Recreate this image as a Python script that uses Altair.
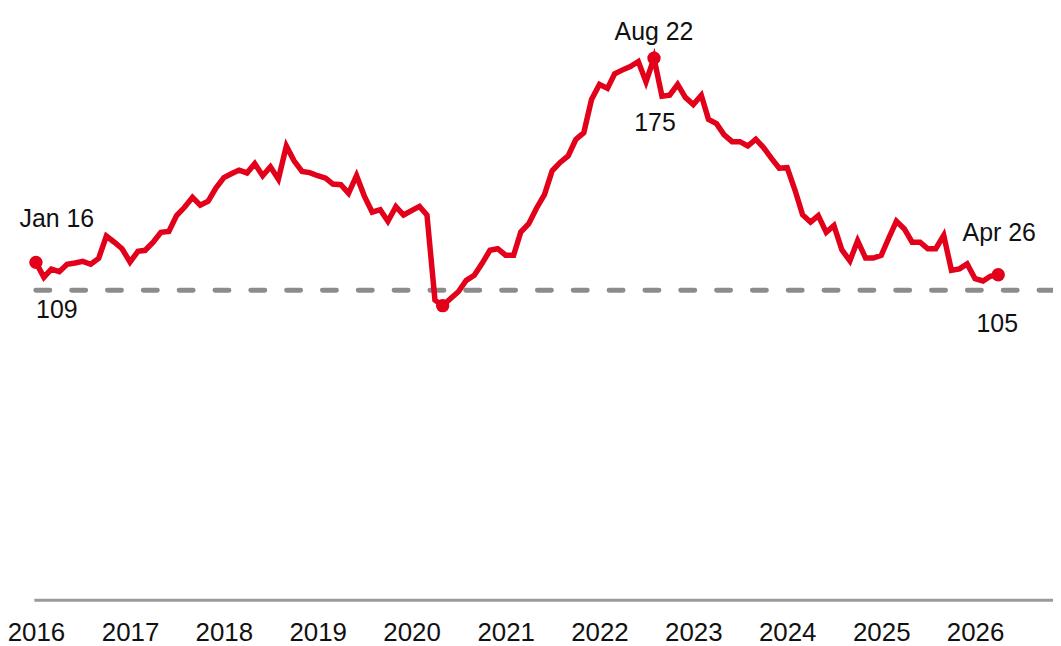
import altair as alt
import pandas as pd

# Monthly index values, Jan 2016 .. Apr 2026
start_month = "2016-01-01"
values = [
    109, 104.2, 106.8, 106, 108.4, 108.8, 109.3, 108.4, 110.3, 117.5, 115.5, 113.4,
    109.1, 112.6, 112.9, 115.5, 118.7, 119, 124.1, 126.8, 130, 127.5, 128.8, 133,
    136.4, 137.7, 138.8, 137.9, 140.9, 137, 139.9, 135.9, 146.6, 141.8, 138.4, 138,
    137, 136.2, 134.3, 134.1, 131.3, 137, 130.5, 125.2, 126, 122.3, 127, 124.3,
    125.7, 127.1, 124.3, 96.8, 95, 97.3, 99.5, 103.2, 104.8, 108.6, 112.9, 113.4,
    111.3, 111.3, 118.8, 121.5, 126.5, 130.9, 138.6, 141.3, 143.4, 148.7, 150.9, 161.6,
    166.5, 165.2, 169.9, 171.2, 172.3, 173.9, 167.3, 175, 162.7, 163, 166.5, 162.3,
    160, 163, 155.2, 153.8, 150.2, 148, 148, 146.6, 148.8, 146.1, 142.6, 139.4,
    139.6, 132.2, 124.4, 122, 124.1, 118.7, 120.9, 113, 109.5, 116, 110.4, 110.4,
    111.3, 117.2, 122.3, 119.8, 115.5, 115.5, 113.4, 113.4, 117.7, 106.4, 106.9, 108.5,
    103.7, 103, 104.5, 105,
]
baseline_value = 100
years = [2016, 2017, 2018, 2019, 2020, 2021, 2022, 2023, 2024, 2025, 2026]

dot_dates = ["2016-01-01", "2020-05-01", "2022-08-01", "2026-04-01"]
dot_values = [109, 95, 175, 105]

ann_dates = ["2016-01-01", "2022-08-01", "2026-04-01"]
ann_values = [109, 175, 105]
ann_top = ["Jan 16", "Aug  22", "Apr 26"]
ann_bottom = ["109", "175", "105"]

dates = pd.date_range(start_month, periods=len(values), freq="MS").strftime("%Y-%m-%dT00:00:00")
df = pd.DataFrame({"date": dates, "value": values})
dots = pd.DataFrame({"date": [d + "T00:00:00" for d in dot_dates], "value": dot_values})

RED = "#e2001a"
FONT = "Liberation Sans"

xscale = alt.Scale(domain=[alt.DateTime(year=2015, month=12, date=24),
                           alt.DateTime(year=2026, month=10, date=31)], nice=False)
yscale = alt.Scale(domain=[0, 190.7], nice=False, zero=False)

xenc = alt.X("date:T", scale=xscale, title=None,
             axis=alt.Axis(values=[alt.DateTime(year=y, month=1, date=1) for y in years],
                           format="%Y", ticks=False, grid=False, domain=True,
                           domainColor="#9a9a9a", domainWidth=3,
                           labelFontSize=26, labelFont=FONT, labelColor="#111111",
                           labelPadding=20, labelFlush=False, labelOverlap=False))
yenc = alt.Y("value:Q", scale=yscale, axis=None)

base = alt.Chart(df)

rule = alt.Chart(pd.DataFrame({"v": [baseline_value]})).mark_rule(
    color="#8c8c8c", strokeWidth=5, strokeDash=[14, 22], strokeCap="round"
).encode(y=alt.Y("v:Q", scale=yscale, axis=None))

line = base.mark_line(color=RED, strokeWidth=5.5).encode(x=xenc, y=yenc)

pts = alt.Chart(dots).mark_circle(color=RED, size=180, opacity=1).encode(
    x=alt.X("date:T", scale=xscale), y=alt.Y("value:Q", scale=yscale))

offsets_top = [(21, -36), (0, -18), (1, -34)]
offsets_bottom = [(21, 56), (1, 73), (-1, 58)]

texts = []
for d, v, t, b, ot, ob in zip(ann_dates, ann_values, ann_top, ann_bottom, offsets_top, offsets_bottom):
    adf = pd.DataFrame({"date": [d + "T00:00:00"], "value": [v], "top": [t], "bottom": [b]})
    ac = alt.Chart(adf)
    texts.append(ac.mark_text(font=FONT, fontSize=25, color="#111111", align="center",
                              baseline="alphabetic", dx=ot[0], dy=ot[1]).encode(
        x=alt.X("date:T", scale=xscale), y=alt.Y("value:Q", scale=yscale), text="top:N"))
    texts.append(ac.mark_text(font=FONT, fontSize=25, color="#111111", align="center",
                              baseline="alphabetic", dx=ob[0], dy=ob[1]).encode(
        x=alt.X("date:T", scale=xscale), y=alt.Y("value:Q", scale=yscale), text="bottom:N"))

chart = alt.layer(rule, line, pts, *texts).properties(
    width=1024, height=593,
    background="white",
    autosize=alt.AutoSizeParams(type="none"),
    padding={"left": 26, "top": 0, "right": 0, "bottom": 44},
).configure_view(stroke=None)

chart.save("out.html", embed_options={"renderer": "svg", "actions": False})
